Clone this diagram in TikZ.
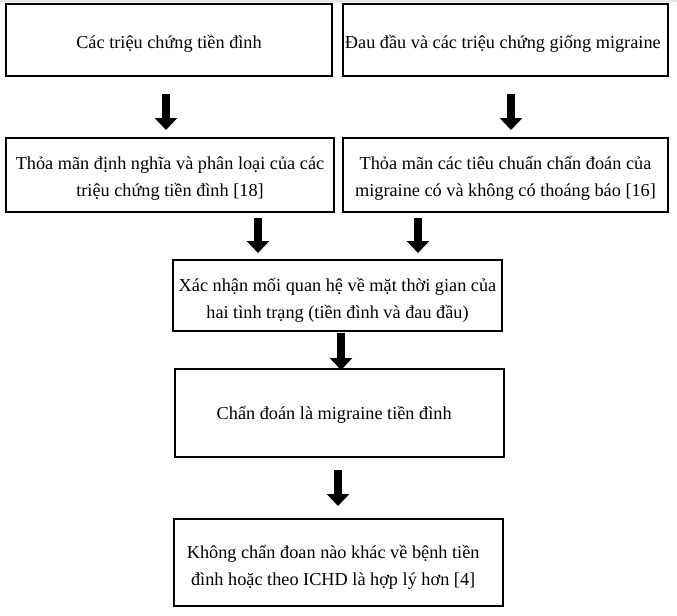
\documentclass[tikz,border=0pt]{standalone}
\usepackage{fontspec}
\setmainfont{Liberation Serif}
\usetikzlibrary{arrows.meta}
\begin{document}
\begin{tikzpicture}[x=0.75pt,y=-0.75pt,
  box/.style={draw=black,line width=1.5pt,inner sep=0pt},
  boxtext/.style={inner sep=0pt,align=center,
    font=\fontsize{13.7}{20.25}\selectfont},
  blockarrow/.style={draw=black,line width=6pt,
    -{Triangle[width=16.5pt,length=9pt]}}]
\useasboundingbox (0,0) rectangle (677,615);
\fill[white] (0,0) rectangle (677,615);
\fill[gray!20] (0,0) rectangle (677,1.5);
\node[box,minimum width=326*0.75pt,minimum height=72*0.75pt] (b1) at (169,40) {};
\node[box,minimum width=325*0.75pt,minimum height=72*0.75pt] (b2) at (505.5,40) {};
\node[box,minimum width=328*0.75pt,minimum height=74*0.75pt] (b3) at (170,175) {};
\node[box,minimum width=325*0.75pt,minimum height=74*0.75pt] (b4) at (505.5,175) {};
\node[box,minimum width=329*0.75pt,minimum height=71*0.75pt] (b5) at (337.5,295.5) {};
\node[box,minimum width=329*0.75pt,minimum height=88*0.75pt] (b6) at (339.5,413) {};
\node[box,minimum width=329*0.75pt,minimum height=87*0.75pt] (b7) at (338.5,562.5) {};
\node[boxtext] (t1) at ([yshift=-3pt]b1.center) {Các triệu chứng tiền đình};
\node[boxtext] (t2) at ([xshift=-2pt,yshift=-3pt]b2.center) {Đau đầu và các triệu chứng giống migraine};
\node[boxtext] (t3) at ([yshift=-2.6pt]b3.center) {Thỏa mãn định nghĩa và phân loại của các\\triệu chứng tiền đình [18]};
\node[boxtext] (t4) at ([yshift=-2.6pt]b4.center) {Thỏa mãn các tiêu chuẩn chẩn đoán của\\migraine có và không có thoáng báo [16]};
\node[boxtext] (t5) at ([yshift=-3.6pt]b5.center) {Xác nhận mối quan hệ về mặt thời gian của\\hai tình trạng (tiền đình và đau đầu)};
\node[boxtext] (t6) at ([xshift=-4pt,yshift=-1.5pt]b6.center) {Chẩn đoán là migraine tiền đình};
\node[boxtext] (t7) at ([xshift=-4pt,yshift=-3.6pt]b7.center) {Không chẩn đoan nào khác về bệnh tiền\\đình hoặc theo ICHD là hợp lý hơn [4]};
\coordinate (a1s) at (166,94);  \coordinate (a1e) at (166,130);
\coordinate (a2s) at (511,94);  \coordinate (a2e) at (511,130);
\coordinate (a3s) at (258,218); \coordinate (a3e) at (258,253);
\coordinate (a4s) at (418,218); \coordinate (a4e) at (418,253);
\coordinate (a5s) at (341,333); \coordinate (a5e) at (341,370);
\coordinate (a6s) at (338,470); \coordinate (a6e) at (338,506);
\draw[blockarrow] (a1s) -- (a1e);
\draw[blockarrow] (a2s) -- (a2e);
\draw[blockarrow] (a3s) -- (a3e);
\draw[blockarrow] (a4s) -- (a4e);
\draw[blockarrow] (a5s) -- (a5e);
\draw[blockarrow] (a6s) -- (a6e);
\end{tikzpicture}
\end{document}
